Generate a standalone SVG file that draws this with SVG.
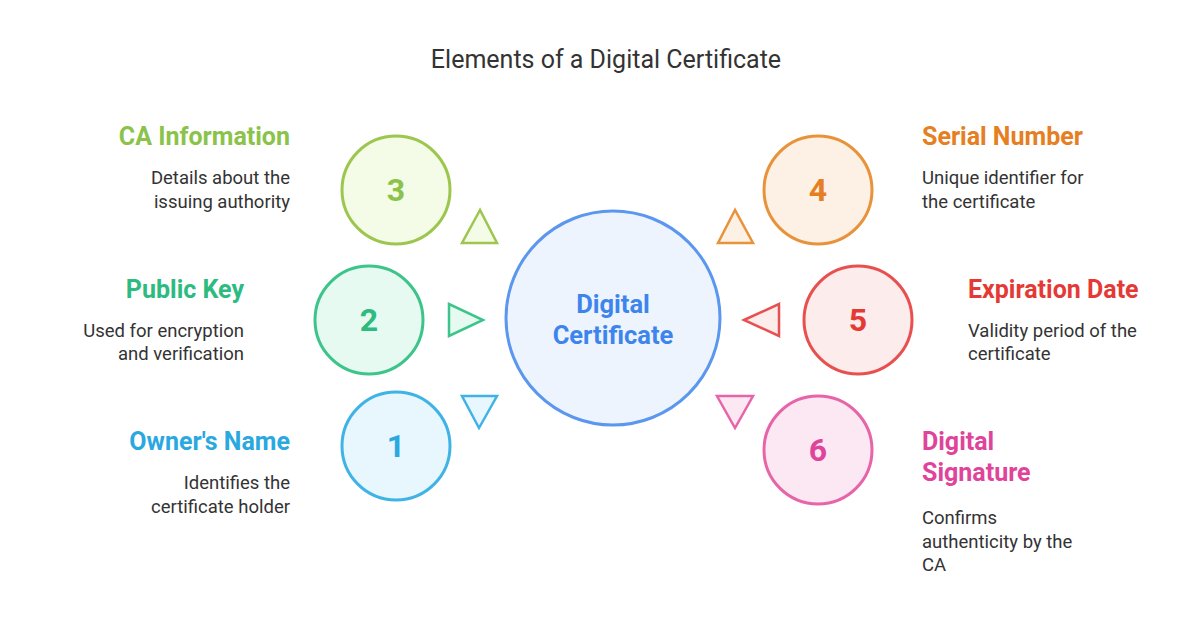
<svg xmlns="http://www.w3.org/2000/svg" width="1200" height="620" viewBox="0 0 1200 620">
<style>
text{font-family:Roboto,"Liberation Sans",sans-serif}
.title{font-size:25px;fill:#333;text-anchor:middle}
.h{font-size:25px;font-weight:bold}
.d{font-size:18.5px;fill:#333}
.r{text-anchor:end}
.num{font-size:32px;font-weight:bold;text-anchor:middle}
.c{stroke-width:3}
.t{stroke-width:2.5;stroke-linejoin:miter}
</style>
<rect width="1200" height="620" fill="#ffffff"/>
<text class="title" x="606" y="68">Elements of a Digital Certificate</text>

<g id="center">
<circle cx="613" cy="318" r="107" fill="#edf4fe" stroke="#5b97ee" class="c"/>
<text x="613" y="313" font-size="25.5" font-weight="bold" fill="#3d85ec" text-anchor="middle">Digital</text>
<text x="613" y="344" font-size="25.5" font-weight="bold" fill="#3d85ec" text-anchor="middle">Certificate</text>
</g>

<g id="connectors">
<polygon class="t" points="480,210 462,243 497,243" fill="#f4fbe6" stroke="#9cc64e"/>
<polygon class="t" points="449,304 449,336 483,320" fill="#e6faf1" stroke="#3cc48a"/>
<polygon class="t" points="462,396 497,396 479,428" fill="#e8f7fd" stroke="#3fb3e6"/>
<polygon class="t" points="735,210 718,243 753,243" fill="#fdf1e6" stroke="#e8923a"/>
<polygon class="t" points="744,320 779,304 779,336" fill="#fdecec" stroke="#e85050"/>
<polygon class="t" points="717,396 753,396 735,428" fill="#fce8f3" stroke="#e864a8"/>
</g>

<g id="node3">
<circle cx="396" cy="190" r="54" fill="#f4fbe6" stroke="#9cc64e" class="c"/>
<text class="num" x="396" y="201" fill="#8bc34a">3</text>
<text class="h r" x="290" y="145" fill="#8bc34a">CA Information</text>
<text class="d r" x="290" y="184">Details about the</text>
<text class="d r" x="290" y="208">issuing authority</text>
</g>

<g id="node2">
<circle cx="369" cy="320" r="54" fill="#e6faf1" stroke="#3cc48a" class="c"/>
<text class="num" x="369" y="331" fill="#2dbb7f">2</text>
<text class="h r" x="244" y="298" fill="#2dbb7f">Public Key</text>
<text class="d r" x="244" y="337">Used for encryption</text>
<text class="d r" x="244" y="360">and verification</text>
</g>

<g id="node1">
<circle cx="396" cy="446" r="54" fill="#e8f7fd" stroke="#3fb3e6" class="c"/>
<text class="num" x="396" y="457" fill="#2aa8e0">1</text>
<text class="h r" x="290" y="450" fill="#2aa8e0">Owner's Name</text>
<text class="d r" x="290" y="489">Identifies the</text>
<text class="d r" x="290" y="513">certificate holder</text>
</g>

<g id="node4">
<circle cx="818" cy="190" r="54" fill="#fdf1e6" stroke="#e8923a" class="c"/>
<text class="num" x="818" y="201" fill="#e67e22">4</text>
<text class="h" x="922" y="145" fill="#e67e22">Serial Number</text>
<text class="d" x="922" y="184">Unique identifier for</text>
<text class="d" x="922" y="208">the certificate</text>
</g>

<g id="node5">
<circle cx="858" cy="320" r="54" fill="#fdecec" stroke="#e85050" class="c"/>
<text class="num" x="858" y="331" fill="#e53935">5</text>
<text class="h" x="968" y="298" fill="#e53935">Expiration Date</text>
<text class="d" x="968" y="337">Validity period of the</text>
<text class="d" x="968" y="360">certificate</text>
</g>

<g id="node6">
<circle cx="818" cy="450" r="54" fill="#fce8f3" stroke="#e864a8" class="c"/>
<text class="num" x="818" y="461" fill="#e0449a">6</text>
<text class="h" x="922" y="450" fill="#e0449a">Digital</text>
<text class="h" x="922" y="481" fill="#e0449a">Signature</text>
<text class="d" x="922" y="524">Confirms</text>
<text class="d" x="922" y="548">authenticity by the</text>
<text class="d" x="922" y="571">CA</text>
</g>
</svg>
